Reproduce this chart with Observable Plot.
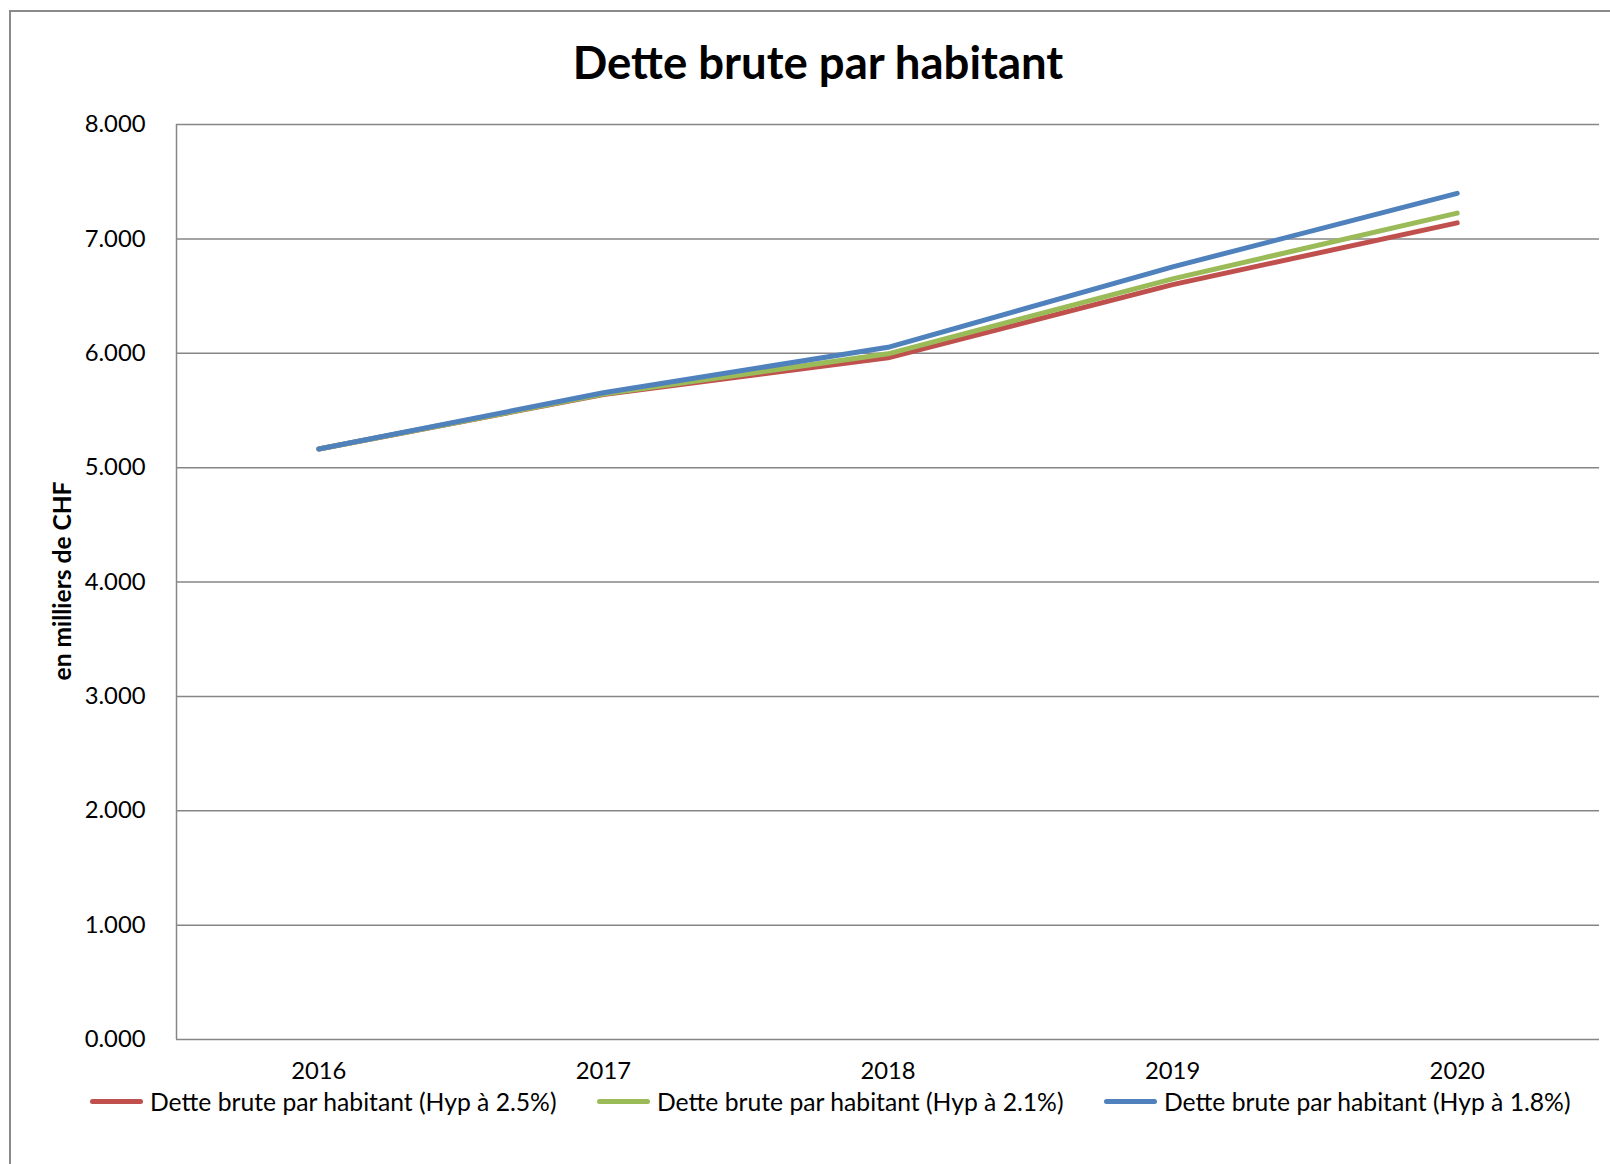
<!DOCTYPE html>
<html>
<head>
<meta charset="utf-8">
<script src="https://cdn.jsdelivr.net/npm/d3@7"></script>
<script src="https://cdn.jsdelivr.net/npm/@observablehq/plot@0.6"></script>
<style>
  html, body { margin: 0; padding: 0; background: #fff; overflow: hidden; }
  body { width: 1610px; height: 1164px; position: relative; font-family: Lato, "Open Sans", sans-serif; }
  #frame { position: absolute; left: 9px; top: 10px; width: 1700px; height: 1300px; border-left: 2px solid #8a8a8a; border-top: 2px solid #8a8a8a; }
  #title { position: absolute; left: 0; width: 1636px; top: 34px; text-align: center; font-weight: 700; font-size: 45.5px; color: #000; }
  #ylabel { position: absolute; left: 61px; top: 581px; transform: translate(-50%, -50%) rotate(-90deg); font-weight: 700; font-size: 24.5px; white-space: nowrap; }
  #chart { position: absolute; left: 0; top: 0; }
  .leg { position: absolute; top: 1087px; display: flex; align-items: center; font-size: 24.7px; white-space: nowrap; }
  .sw { width: 53px; height: 5px; border-radius: 3px; margin-right: 7px; }
</style>
</head>
<body>
<div id="frame"></div>
<div id="chart"></div>
<div id="title">Dette brute par habitant</div>
<div id="ylabel">en milliers de CHF</div>
<div id="legend"></div>
<script>
const years = [2016, 2017, 2018, 2019, 2020];
const seriesNames = [
  "Dette brute par habitant (Hyp à 2.5%)",
  "Dette brute par habitant (Hyp à 2.1%)",
  "Dette brute par habitant (Hyp à 1.8%)"
];
const hyp25 = [5.163, 5.640, 5.960, 6.600, 7.140];
const hyp21 = [5.163, 5.643, 5.995, 6.650, 7.225];
const hyp18 = [5.163, 5.655, 6.052, 6.755, 7.398];
const colors = ["#C0504D", "#9BBB59", "#4F81BD"];
const yTicks = [0, 1, 2, 3, 4, 5, 6, 7, 8];

const valuesBySeries = [hyp25, hyp21, hyp18];
const data = [];
seriesNames.forEach((s, i) => years.forEach((yr, j) => data.push({series: s, year: yr, value: valuesBySeries[i][j]})));

const chart = Plot.plot({
  width: 1610,
  height: 1164,
  marginLeft: 176,
  marginRight: 11,
  marginTop: 124,
  marginBottom: 125,
  style: {fontFamily: "Lato, 'Open Sans', sans-serif", color: "#000", background: "transparent"},
  x: {domain: [2015.5, 2020.5]},
  y: {domain: [0, 8]},
  color: {domain: seriesNames, range: colors},
  marks: [
    Plot.gridY(yTicks, {stroke: "#868686", strokeOpacity: 1, strokeWidth: 1.5}),
    Plot.ruleX([2015.5], {stroke: "#868686", strokeWidth: 1.5}),
    Plot.axisY(yTicks, {tickSize: 0, tickPadding: 31, fontSize: 23.8, tickFormat: d => d.toFixed(3), label: null}),
    Plot.axisX(years, {tickSize: 0, tickPadding: 23, fontSize: 23.8, tickFormat: d => String(d), label: null}),
    Plot.line(data, {x: "year", y: "value", z: "series", stroke: "series", strokeWidth: 5, strokeLinecap: "round", strokeLinejoin: "round"})
  ]
});
document.getElementById("chart").appendChild(chart);

const legendLefts = [90, 597, 1104];
const legend = document.getElementById("legend");
seriesNames.forEach((s, i) => {
  const item = document.createElement("div");
  item.className = "leg";
  item.style.left = legendLefts[i] + "px";
  const sw = document.createElement("div");
  sw.className = "sw";
  sw.style.background = colors[i];
  const t = document.createElement("span");
  t.textContent = s;
  item.appendChild(sw);
  item.appendChild(t);
  legend.appendChild(item);
});
</script>
</body>
</html>
